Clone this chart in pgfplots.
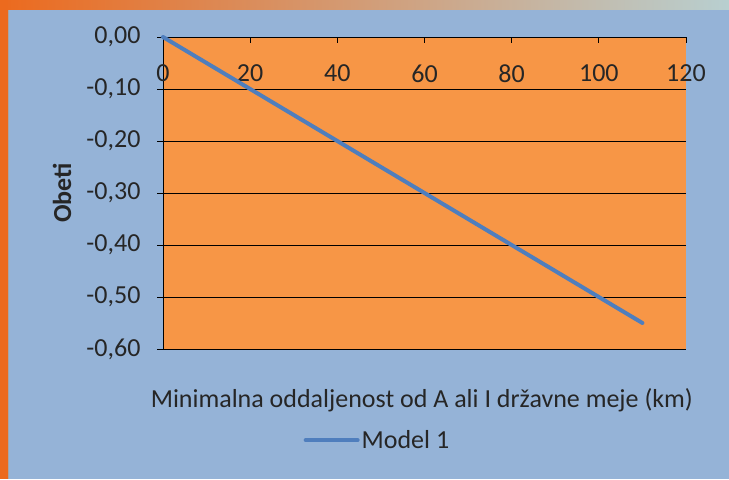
\documentclass[border=0pt]{standalone}
\usepackage{pgfplots}
\pgfplotsset{compat=1.18}
\usepackage{fontspec}
\setmainfont{Carlito}
\definecolor{bgblue}{HTML}{95B3D7}
\definecolor{plotor}{HTML}{F79646}
\definecolor{lineblue}{HTML}{4F7EBD}
\definecolor{edgeor}{HTML}{EC6A1E}
\definecolor{topend}{HTML}{B8CFD0}
\newcommand{\cf}{\fontsize{26}{30}\selectfont}
\begin{document}
\begin{tikzpicture}[x=1pt,y=1pt]
\fill[bgblue] (0,0) rectangle (729,479);
\shade[left color=edgeor, right color=topend] (0,469) rectangle (729,479);
\fill[edgeor] (0,0) rectangle (8,479);
\draw[gray!70, line width=0.8pt] (8.4,0) -- (8.4,469);
\begin{axis}[
  at={(163pt,130pt)}, anchor=south west,
  scale only axis, width=523pt, height=312pt,
  xmin=0, xmax=120, ymin=-0.6, ymax=0,
  axis background/.style={fill=plotor},
  axis x line*=top, axis y line*=left,
  axis line style={black, line width=0.9pt},
  xtick={0,20,...,120}, ytick={-0.6,-0.5,...,0},
  tick align=inside, major tick length=6pt,
  every tick/.style={black, line width=0.9pt},
  ytick style={xshift=-6pt},
  ymajorgrids, grid style={black, line width=0.9pt},
  /pgf/number format/assume math mode=true,
  xticklabel style={anchor=north, yshift=-24pt, font=\cf, text=black!85},
  yticklabel style={/pgf/number format/.cd, fixed, fixed zerofill, precision=2, use comma, /tikz/.cd, xshift=-19pt, font=\cf, text=black!85},
  xlabel={Minimalna oddaljenost od A ali I državne meje (km)},
  xlabel style={at={(axis description cs:0.495,-0.165)}, anchor=center, font=\cf, text=black!85},
  ylabel={\textbf{Obeti}},
  ylabel style={at={(axis description cs:-0.193,0.5)}, anchor=center, font=\cf, text=black!85},
  legend style={at={(axis description cs:0.41,-0.292)}, anchor=center, draw=none, fill=none, font=\cf, text=black!85},
  legend image code/.code={\draw[#1, line width=4pt] (0pt,0pt) -- (52pt,0pt);},
  legend cell align=left,
  clip=false,
]
\addplot[lineblue, line width=4pt, line cap=round] coordinates {(0,0) (110,-0.55)};
\addlegendentry{Model 1}
\end{axis}
\end{tikzpicture}
\end{document}
